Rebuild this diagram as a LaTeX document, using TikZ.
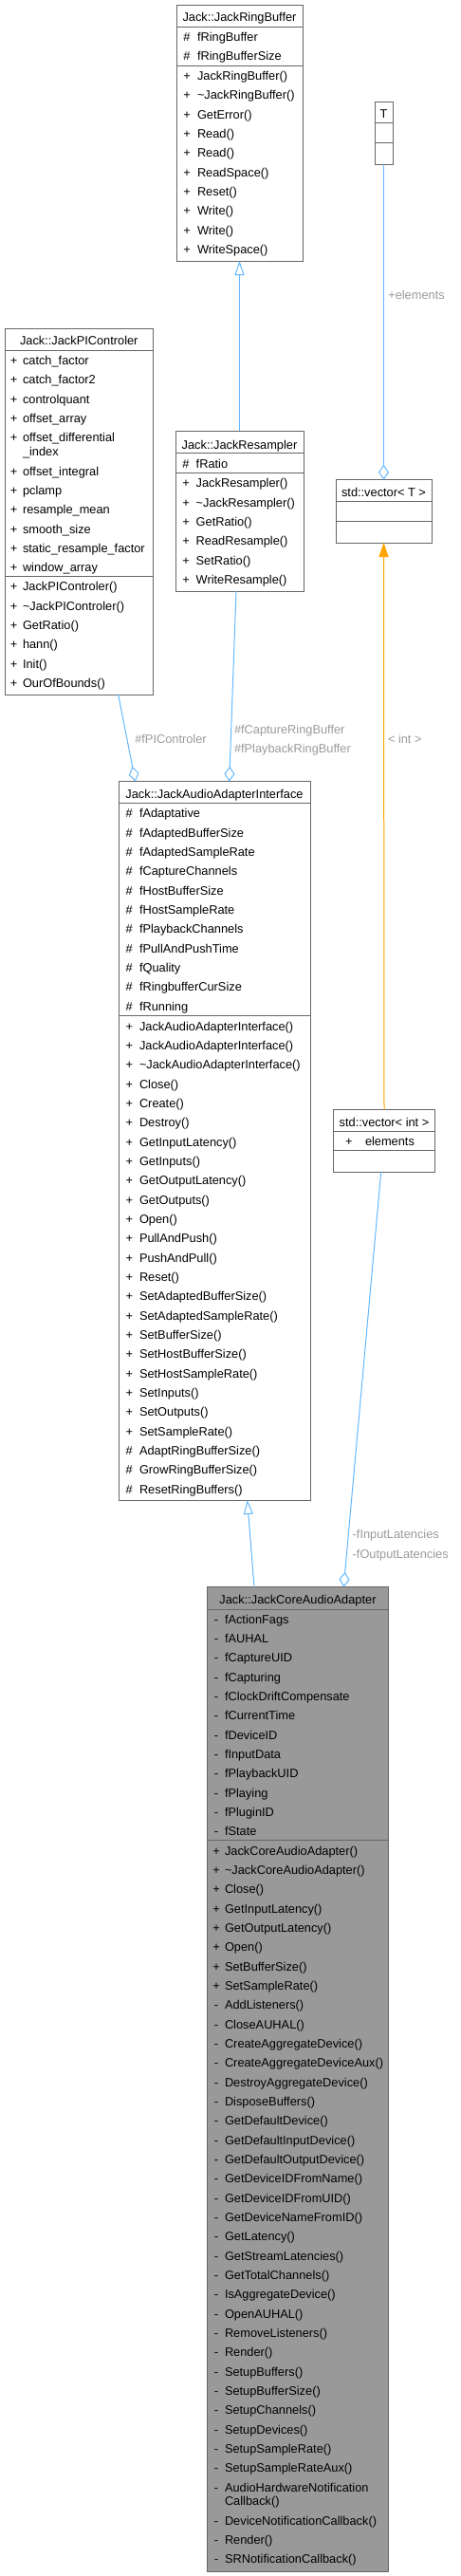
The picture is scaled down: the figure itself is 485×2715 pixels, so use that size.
\documentclass[tikz,border=0pt]{standalone}
\usepackage{fontspec}
\setmainfont{Liberation Sans}
\usetikzlibrary{arrows.meta,calc}
\definecolor{edgeblue}{HTML}{63B8FF}
\definecolor{boxgray}{HTML}{666666}
\definecolor{lblgray}{HTML}{9A9A9A}
\definecolor{fillgray}{HTML}{999999}
\definecolor{edgeorange}{HTML}{FFA500}
\tikzset{
  cls/.style={draw=boxgray, line width=1pt, fill=white, inner sep=0pt, outer sep=0pt, anchor=north west},
  sepline/.style={draw=boxgray, line width=1pt},
  txt/.style={inner sep=0pt, outer sep=0pt, yshift=-4.5pt},
  ttl/.style={txt, anchor=base},
  lbl/.style={txt, anchor=base west, text=lblgray},
  inh/.style={draw=edgeblue, line width=1pt, -{Triangle[open, length=15pt, width=10pt]}},
  agg/.style={draw=edgeblue, line width=1pt, {Diamond[open, length=16pt, width=11pt]}-},
  tmpl/.style={draw=edgeorange, line width=1pt, -{Triangle[length=15pt, width=10pt, fill=edgeorange]}}
}
% #1 symbol x, #2 name x, #3 first row y, #4 symbol, #5 names
\newcommand\umlrows[5]{%
  \foreach \n [count=\i from 0] in {#5} {
    \node[txt, anchor=base] at (#1, #3+\i*20.33) {#4};
    \node[txt, anchor=base west] at (#2, #3+\i*20.33) {\n};
  }%
}
\begin{document}
\begin{tikzpicture}[x=1pt, y=-1pt, font=\fontsize{12.8}{15}\selectfont]
\useasboundingbox (0,0) rectangle (485,2715);

% Jack::JackRingBuffer
\node[cls, minimum width=133pt, minimum height=270pt] (rb) at (186,5) {};
\node[ttl] (rbt) at (252.5,18.3) {Jack::JackRingBuffer};
\draw[sepline] (186,28.7) -- (319,28.7);
\umlrows{197}{208}{39}{\#}{fRingBuffer,fRingBufferSize}
\draw[sepline] (186,69) -- (319,69);
\umlrows{197}{208}{80}{+}{JackRingBuffer(),\textasciitilde JackRingBuffer(),GetError(),Read(),Read(),ReadSpace(),Reset(),Write(),Write(),WriteSpace()}

% T
\node[cls, minimum width=19pt, minimum height=66pt] (t) at (395,107) {};
\node[ttl] (tt) at (404.5,120) {T};
\draw[sepline] (395,129.7) -- (414,129.7);
\draw[sepline] (395,150) -- (414,150);

% std::vector< T >
\node[cls, minimum width=101pt, minimum height=66.3pt] (vt) at (354,505.7) {};
\node[ttl] (vtt) at (404.5,519.3) {std::vector< T >};
\draw[sepline] (354,528.3) -- (455,528.3);
\draw[sepline] (354,549) -- (455,549);

% Jack::JackResampler
\node[cls, minimum width=135pt, minimum height=169pt] (rs) at (185,454) {};
\node[ttl] (rst) at (252.5,468.7) {Jack::JackResampler};
\draw[sepline] (185,477.7) -- (320,477.7);
\umlrows{196}{206.7}{489}{\#}{fRatio}
\draw[sepline] (185,498.7) -- (320,498.7);
\umlrows{196}{206.7}{509.3}{+}{JackResampler(),\textasciitilde JackResampler(),GetRatio(),ReadResample(),SetRatio(),WriteResample()}

% Jack::JackPIControler
\node[cls, minimum width=156.5pt, minimum height=386pt] (pi) at (5,346) {};
\node[ttl] (pit) at (83.25,359.3) {Jack::JackPIControler};
\draw[sepline] (5,369) -- (161.5,369);
\umlrows{14.7}{24}{380}{+}{catch\_factor,catch\_factor2,controlquant,offset\_array,offset\_differential}
\node[txt, anchor=base west] (pix) at (24,476) {\_index};
\umlrows{14.7}{24}{496.7}{+}{offset\_integral,pclamp,resample\_mean,smooth\_size,static\_resample\_factor,window\_array}
\draw[sepline] (5,607.5) -- (161.5,607.5);
\umlrows{14.7}{24}{618.3}{+}{JackPIControler(),\textasciitilde JackPIControler(),GetRatio(),hann(),Init(),OurOfBounds()}

% Jack::JackAudioAdapterInterface
\node[cls, minimum width=202pt, minimum height=757.3pt] (ai) at (125,823.7) {};
\node[ttl] (ait) at (226,837.3) {Jack::JackAudioAdapterInterface};
\draw[sepline] (125,846.7) -- (327,846.7);
\umlrows{136.3}{147}{857.3}{\#}{fAdaptative,fAdaptedBufferSize,fAdaptedSampleRate,fCaptureChannels,fHostBufferSize,fHostSampleRate,fPlaybackChannels,fPullAndPushTime,fQuality,fRingbufferCurSize,fRunning}
\draw[sepline] (125,1070) -- (327,1070);
\umlrows{136.3}{147}{1081.7}{+}{JackAudioAdapterInterface(),JackAudioAdapterInterface(),\textasciitilde JackAudioAdapterInterface(),Close(),Create(),Destroy(),GetInputLatency(),GetInputs(),GetOutputLatency(),GetOutputs(),Open(),PullAndPush(),PushAndPull(),Reset(),SetAdaptedBufferSize(),SetAdaptedSampleRate(),SetBufferSize(),SetHostBufferSize(),SetHostSampleRate(),SetInputs(),SetOutputs(),SetSampleRate()}
\umlrows{136.3}{147}{1529}{\#}{AdaptRingBufferSize(),GrowRingBufferSize(),ResetRingBuffers()}

% std::vector< int >
\node[cls, minimum width=106.6pt, minimum height=66pt] (vi) at (351.7,1169.3) {};
\node[ttl] (vit) at (405,1182.7) {std::vector< int >};
\draw[sepline] (351.7,1192.7) -- (458.3,1192.7);
\umlrows{367.8}{385}{1203.3}{+}{elements}
\draw[sepline] (351.7,1212.7) -- (458.3,1212.7);

% Jack::JackCoreAudioAdapter
\node[cls, fill=fillgray, minimum width=190.6pt, minimum height=1037.3pt] (ca) at (218.7,1672.7) {};
\node[ttl] (cat) at (314,1686) {Jack::JackCoreAudioAdapter};
\draw[sepline] (218.7,1696) -- (409.3,1696);
\umlrows{228}{237}{1706.7}{-}{fActionFags,fAUHAL,fCaptureUID,fCapturing,fClockDriftCompensate,fCurrentTime,fDeviceID,fInputData,fPlaybackUID,fPlaying,fPluginID,fState}
\draw[sepline] (218.7,1939.7) -- (409.3,1939.7);
\umlrows{228}{237}{1950.7}{+}{JackCoreAudioAdapter(),\textasciitilde JackCoreAudioAdapter(),Close(),GetInputLatency(),GetOutputLatency(),Open(),SetBufferSize(),SetSampleRate()}
\umlrows{228}{237}{2113.3}{-}{AddListeners(),CloseAUHAL(),CreateAggregateDevice(),CreateAggregateDeviceAux(),DestroyAggregateDevice(),DisposeBuffers(),GetDefaultDevice(),GetDefaultInputDevice(),GetDefaultOutputDevice(),GetDeviceIDFromName(),GetDeviceIDFromUID(),GetDeviceNameFromID(),GetLatency(),GetStreamLatencies(),GetTotalChannels(),IsAggregateDevice(),OpenAUHAL(),RemoveListeners(),Render(),SetupBuffers(),SetupBufferSize(),SetupChannels(),SetupDevices(),SetupSampleRate(),SetupSampleRateAux(),AudioHardwareNotification}
\node[txt, anchor=base west] (cacb) at (237,2636.3) {Callback()};
\umlrows{228}{237}{2656.7}{-}{DeviceNotificationCallback(),Render(),SRNotificationCallback()}

% connectors
\draw[inh] (rs.north) -- (rb.south);
\draw[agg] (vt.north) -- (t.south);
\node[lbl] (lel) at (409.3,311) {+elements};
\draw[tmpl] (vi.north) -- (vt.south);
\node[lbl] (lint) at (409,779.3) {< int >};
\draw[agg] ([xshift=17.7pt]ai.north west) -- ([xshift=119.7pt]pi.south west);
\node[lbl] (lpi) at (142.3,779) {\#fPIControler};
\draw[agg] ([xshift=116.7pt]ai.north west) -- ([xshift=64pt]rs.south west);
\node[lbl] (lcap) at (247,768.7) {\#fCaptureRingBuffer};
\node[lbl] (lpb) at (247,789) {\#fPlaybackRingBuffer};
\draw[inh] ([xshift=49.3pt]ca.north west) -- ([xshift=135.7pt]ai.south west);
\draw[agg] ([xshift=143.6pt]ca.north west) -- ([xshift=50pt]vi.south west);
\node[lbl] (lin) at (371.7,1617.3) {-fInputLatencies};
\node[lbl] (lout) at (371.7,1637.7) {-fOutputLatencies};
\end{tikzpicture}
\end{document}
